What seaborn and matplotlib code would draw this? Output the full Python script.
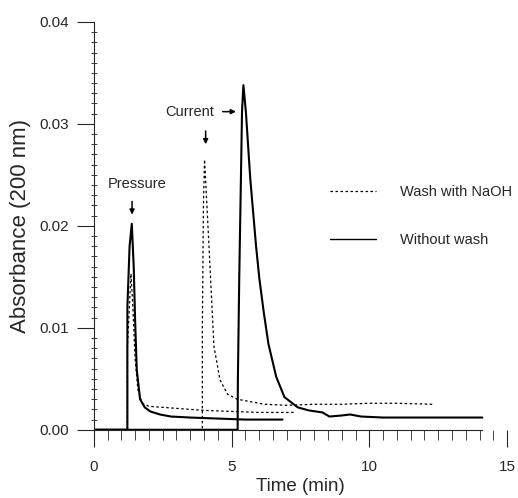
import pandas as pd
import matplotlib.pyplot as plt
from matplotlib.ticker import MultipleLocator
from matplotlib.lines import Line2D
import seaborn as sns

# ====================== Data ======================
# pressure injection, without wash (solid)
t_press_nowash = [0, 1.22, 1.22, 1.30, 1.38, 1.45, 1.50, 1.56, 1.68, 1.85, 2.05, 2.4, 2.8, 3.5, 4.5, 5.5, 6.85]
a_press_nowash = [0, 0, 0.012, 0.018, 0.0202, 0.016, 0.0108, 0.0059, 0.0030, 0.0022, 0.0018, 0.0015, 0.0013, 0.0012, 0.0011, 0.0010, 0.0010]

# pressure injection, wash with NaOH (dotted)
t_press_wash = [0, 1.22, 1.22, 1.35, 1.42, 1.50, 1.60, 1.75, 2.0, 3.0, 4.0, 5.0, 6.0, 7.3]
a_press_wash = [0, 0, 0.008, 0.0153, 0.012, 0.007, 0.004, 0.0026, 0.0023, 0.0021, 0.0019, 0.0018, 0.0017, 0.0017]

# current injection, wash with NaOH (dotted)
t_curr_wash = [0, 3.94, 3.94, 3.98, 4.02, 4.12, 4.24, 4.36, 4.58, 4.85, 5.2, 5.6, 6.2, 7.0, 8.0, 9.0, 10.0, 11.0, 12.3]
a_curr_wash = [0, 0, 0.010, 0.022, 0.0265, 0.0213, 0.0148, 0.0082, 0.0049, 0.0035, 0.0030, 0.0028, 0.0025, 0.0024, 0.0025, 0.0025, 0.0026, 0.0026, 0.0025]

# current injection, without wash (solid)
t_curr_nowash = [0, 5.22, 5.23, 5.28, 5.34, 5.38, 5.43, 5.52, 5.68, 5.89, 6.01, 6.17, 6.34, 6.62, 6.92, 7.4, 7.8, 8.3, 8.55, 9.0, 9.3, 9.7, 10.5, 11.5, 12.5, 13.5, 14.1]
a_curr_nowash = [0, 0, 0.005, 0.0150, 0.0246, 0.0312, 0.0338, 0.0312, 0.0246, 0.0180, 0.0148, 0.0115, 0.0084, 0.0052, 0.0032, 0.0022, 0.0019, 0.0017, 0.0013, 0.0014, 0.0015, 0.0013, 0.0012, 0.0012, 0.0012, 0.0012, 0.0012]

legend_labels = ['Wash with NaOH', 'Without wash']

# ====================== Canvas ======================
sns.set_style("ticks")
plt.rcParams['font.family'] = ['Liberation Sans', 'DejaVu Sans']
fig = plt.figure(figsize=(5.18, 4.98), dpi=100)
ax = fig.add_axes([0.181, 0.137, 0.798, 0.819])

dotted = (0, (2, 2))
traces = [
    (t_press_wash, a_press_wash, dotted, 0.9),
    (t_curr_wash, a_curr_wash, dotted, 0.9),
    (t_press_nowash, a_press_nowash, '-', 1.5),
    (t_curr_nowash, a_curr_nowash, '-', 1.5),
]
for t, a, ls, lw in traces:
    df = pd.DataFrame({'t': t, 'a': a})
    sns.lineplot(data=df, x='t', y='a', estimator=None, sort=False,
                 color='black', linestyle=ls, linewidth=lw, ax=ax)

# ====================== Axes ======================
ax.set_xlim(0, 15)
ax.set_ylim(0, 0.04)
ax.xaxis.set_major_locator(MultipleLocator(5))
ax.xaxis.set_minor_locator(MultipleLocator(0.5))
ax.yaxis.set_major_locator(MultipleLocator(0.01))
ax.yaxis.set_minor_locator(MultipleLocator(0.001))
ax.yaxis.set_major_formatter(plt.FormatStrFormatter('%.2f'))
ax.spines['top'].set_visible(False)
ax.spines['right'].set_visible(False)
ax.spines['bottom'].set_linewidth(0.8)
ax.spines['left'].set_linewidth(0.8)
ax.spines['bottom'].set_bounds(0, 14.1)
ax.tick_params(axis='both', which='major', labelsize=11, width=0.8, length=12, direction='out', pad=6)
ax.tick_params(axis='x', which='major', pad=10)
ax.tick_params(axis='x', which='minor', length=7, width=0.6, direction='out')
ax.tick_params(axis='y', which='minor', length=5, width=0.6, direction='inout')
ax.set_xlabel('Time (min)', fontsize=13.5, labelpad=3)
ax.set_ylabel('Absorbance (200 nm)', fontsize=16, labelpad=6)

# ====================== Annotations ======================
arrow = dict(arrowstyle='-|>', color='black', lw=1.1, mutation_scale=7, shrinkA=0, shrinkB=0)
ax.text(1.57, 0.0241, 'Pressure', ha='center', va='center', fontsize=10.5)
ax.annotate('', xy=(1.39, 0.0211), xytext=(1.39, 0.0224), arrowprops=arrow)
ax.text(3.47, 0.0312, 'Current', ha='center', va='center', fontsize=10.5)
ax.annotate('', xy=(5.16, 0.0312), xytext=(4.68, 0.0312), arrowprops=arrow)
ax.annotate('', xy=(4.06, 0.0280), xytext=(4.06, 0.0293), arrowprops=arrow)

handles = [Line2D([0], [0], color='black', linestyle=dotted, linewidth=0.9),
           Line2D([0], [0], color='black', linestyle='-', linewidth=1.0)]
ax.legend(handles, legend_labels, loc='upper left', bbox_to_anchor=(0.571, 0.60),
          frameon=False, fontsize=10.5, handlelength=3.2, handletextpad=1.6,
          labelspacing=2.35, borderpad=0, borderaxespad=0)

plt.savefig('out.png', dpi=100)
